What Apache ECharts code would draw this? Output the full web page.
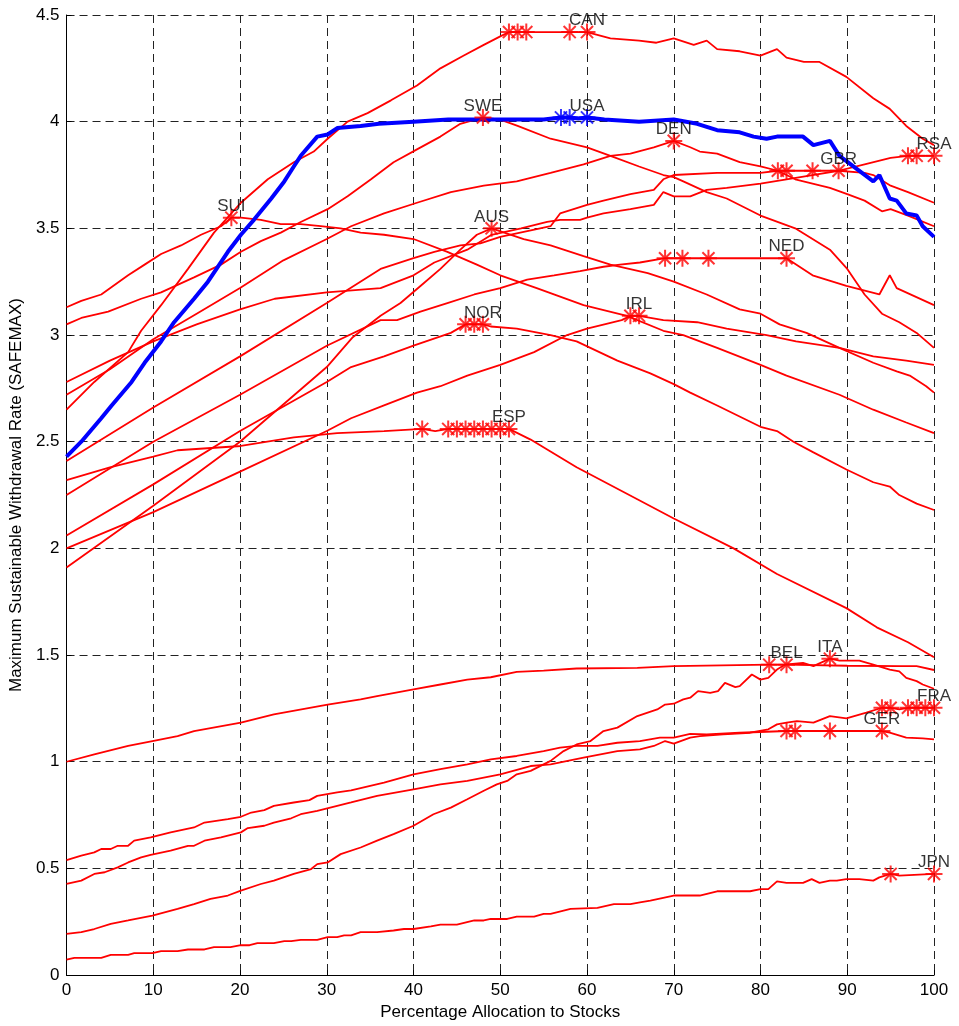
<!DOCTYPE html>
<html><head><meta charset="utf-8">
<script src="https://cdn.jsdelivr.net/npm/echarts@6/dist/echarts.min.js"></script>
<style>html,body{margin:0;padding:0;background:#fff}#c{width:959px;height:1026px}</style>
</head><body><div id="c"></div>
<script>
const COUNTRIES = ['CAN','SWE','DEN','RSA','GBR','SUI','AUS','NED','NOR','IRL','ESP','BEL','ITA','FRA','GER','JPN','USA'];

const CAN = [[0,2.65],[3.2,2.78],[7.1,2.92],[8.6,3.02],[10.9,3.14],[14,3.31],[17,3.48],[20.1,3.62],[23.2,3.73],[26.2,3.81],[28.5,3.86],[30.1,3.92],[32.4,4.0],[34.7,4.04],[37.4,4.10],[40.4,4.17],[43.1,4.25],[45.8,4.31],[48.1,4.36],[50,4.40],[51,4.42],[53,4.42],[58,4.42],[60,4.42],[62.7,4.39],[66,4.38],[68,4.37],[70,4.39],[72.3,4.36],[73.8,4.38],[75,4.34],[77.6,4.33],[80,4.31],[81.9,4.34],[83,4.30],[85,4.28],[86.8,4.28],[89.9,4.21],[93,4.11],[94.9,4.06],[96.8,3.98],[98.7,3.92],[100,3.89]];
const SWE = [[0,3.05],[1.7,3.08],[4.8,3.11],[8.6,3.17],[10.9,3.20],[14.7,3.27],[17.8,3.33],[20.1,3.39],[22.4,3.44],[24.7,3.48],[27,3.53],[30.1,3.59],[32.4,3.65],[35.1,3.73],[37.7,3.81],[40.4,3.87],[43.1,3.93],[45.4,3.99],[48,4.02],[50,4.01],[52,3.98],[55.8,3.92],[60,3.88],[62.7,3.84],[66,3.79],[68.8,3.75],[70,3.74],[71.1,3.72],[73.8,3.67],[76.1,3.64],[80,3.56],[84,3.50],[88,3.40],[90,3.31],[92,3.19],[94,3.10],[96,3.06],[98,3.01],[100,2.94]];
const DEN = [[0,2.72],[5,2.84],[10,2.98],[15,3.10],[20,3.22],[25,3.35],[30,3.45],[32.8,3.51],[36.6,3.57],[40.4,3.62],[44.3,3.67],[48.1,3.70],[51.9,3.72],[55.8,3.76],[59.6,3.80],[62.7,3.84],[65,3.85],[67.7,3.88],[70,3.91],[71.9,3.88],[73,3.86],[75,3.85],[77.6,3.81],[80,3.79],[82,3.77],[84,3.73],[86,3.71],[88,3.69],[90,3.66],[92,3.63],[94,3.58],[95,3.59],[97,3.56],[100,3.51]];
const RSA = [[0,2.78],[5,2.88],[10,2.97],[15,3.05],[20,3.12],[24,3.17],[30,3.20],[36.2,3.22],[40,3.28],[42.4,3.34],[46.2,3.40],[49,3.47],[52.4,3.50],[55.4,3.53],[56.9,3.54],[59.2,3.54],[60,3.55],[61.9,3.57],[65,3.59],[67.7,3.61],[68.8,3.67],[70,3.65],[71.9,3.65],[73.8,3.68],[76.1,3.69],[80,3.71],[83,3.73],[86,3.75],[89,3.77],[92,3.80],[95,3.83],[97,3.84],[98,3.84],[100,3.84]];
const GBR = [[0,2.41],[10,2.66],[20,2.90],[30,3.15],[36.2,3.31],[40,3.36],[42.4,3.39],[45.4,3.42],[47.7,3.43],[50,3.46],[54.6,3.50],[55.8,3.51],[56.9,3.57],[60,3.61],[61.9,3.63],[65,3.66],[67.7,3.68],[68.8,3.73],[70,3.75],[75,3.76],[80,3.76],[82,3.77],[83,3.77],[86,3.77],[89,3.77],[92,3.76],[93,3.75],[95,3.70],[97,3.67],[100,3.62]];
const SUI = [[0,3.13],[1.7,3.16],[4,3.19],[7.1,3.28],[9,3.33],[10.9,3.38],[13.2,3.42],[15.5,3.47],[17.8,3.51],[19,3.55],[20.1,3.55],[22.4,3.54],[24.7,3.52],[27,3.52],[29.3,3.51],[31.6,3.50],[33.9,3.48],[36.6,3.47],[40,3.45],[43.9,3.39],[47.3,3.33],[50,3.28],[54.2,3.22],[59.6,3.14],[64.6,3.09],[68.8,3.02],[71.1,3.0],[75,2.94],[80,2.86],[83,2.81],[89.1,2.72],[93,2.65],[96.8,2.59],[100,2.54]];
const AUS = [[0,1.91],[10,2.20],[20,2.50],[30,2.85],[33,2.99],[36.2,3.09],[38.5,3.15],[40.8,3.23],[43.1,3.31],[45.4,3.40],[47.3,3.47],[49,3.50],[52.7,3.45],[55.8,3.42],[59.6,3.37],[62.7,3.33],[67,3.29],[70,3.25],[73.8,3.19],[77.6,3.12],[80,3.10],[82.2,3.05],[85.3,3.01],[89.1,2.94],[93,2.87],[95.7,2.83],[97.2,2.81],[99.1,2.76],[100,2.73]];
const NED = [[0,2.25],[10,2.50],[20,2.72],[30,2.95],[36.2,3.07],[38.1,3.07],[40.8,3.11],[43.9,3.15],[47,3.19],[50,3.22],[53.1,3.26],[56.2,3.28],[59.2,3.30],[61.9,3.32],[63.8,3.33],[66.1,3.34],[69,3.36],[71,3.36],[74,3.36],[83,3.36],[86,3.28],[89.9,3.23],[93.7,3.19],[94.9,3.28],[95.7,3.22],[100,3.14]];
const NOR = [[0,2.06],[10,2.30],[20,2.55],[30,2.78],[32.8,2.85],[36.6,2.90],[40,2.95],[44.3,3.01],[46,3.05],[47,3.05],[48,3.05],[48.9,3.04],[51.9,3.03],[55.8,3.0],[58.8,2.97],[63.5,2.88],[67.3,2.82],[70,2.77],[71.9,2.73],[75,2.67],[80,2.57],[81.9,2.55],[83.8,2.50],[86.1,2.45],[89.9,2.37],[93,2.31],[94.9,2.29],[96,2.25],[98,2.21],[100,2.18]];
const IRL = [[0,2.0],[10,2.17],[20,2.36],[30,2.55],[32.8,2.61],[36.6,2.67],[40.4,2.73],[43.1,2.76],[46.2,2.81],[50,2.86],[53.9,2.92],[57.7,3.0],[60,3.03],[64,3.07],[65,3.09],[66,3.09],[68.8,3.07],[72.7,3.06],[76.1,3.03],[80.7,3.0],[84.1,2.97],[89.1,2.94],[93,2.90],[96.8,2.88],[100,2.86]];
const ESP = [[0,2.32],[5,2.38],[10,2.43],[12.8,2.46],[20.1,2.48],[26.2,2.52],[31.2,2.54],[36.6,2.55],[41,2.56],[42.5,2.55],[44,2.56],[51,2.56],[53.5,2.51],[58.8,2.38],[65.8,2.23],[70,2.14],[76.9,2.0],[81.9,1.88],[89.9,1.72],[93.4,1.63],[97,1.56],[100,1.49]];
const BEL = [[0,1.0],[3.2,1.035],[7.1,1.074],[9.9,1.097],[12.8,1.12],[14.7,1.144],[20.1,1.183],[23.9,1.222],[30.1,1.268],[33.9,1.292],[35.8,1.308],[40,1.339],[43.1,1.362],[46.2,1.385],[48.9,1.396],[51.9,1.421],[55,1.427],[58.8,1.437],[65.8,1.44],[70,1.448],[81,1.455],[83,1.455],[90,1.45],[96,1.448],[98,1.448],[100,1.43]];
const ITA = [[0,0.193],[1.7,0.201],[3.2,0.216],[5.1,0.24],[7.1,0.256],[9.9,0.279],[12.8,0.31],[14.7,0.333],[16.6,0.357],[18.6,0.373],[20.1,0.396],[22.4,0.427],[23.9,0.443],[26.2,0.474],[28.2,0.497],[28.9,0.52],[30.1,0.528],[31.6,0.567],[33.9,0.598],[35.8,0.63],[37.7,0.661],[40,0.70],[42.3,0.754],[44.3,0.785],[46.2,0.824],[48.1,0.864],[49.6,0.894],[50.8,0.91],[51.9,0.941],[53.5,0.957],[55.8,1.004],[57.3,1.05],[58.8,1.081],[60.4,1.097],[61.9,1.144],[63.5,1.16],[65.8,1.214],[68.1,1.245],[69,1.268],[70,1.272],[71.1,1.292],[71.9,1.30],[72.8,1.331],[74.2,1.323],[75.1,1.331],[75.9,1.37],[77.1,1.35],[77.6,1.354],[79,1.409],[80,1.385],[80.9,1.393],[81.9,1.432],[82.8,1.455],[84.9,1.463],[86.1,1.448],[88,1.483],[89.1,1.474],[91.4,1.474],[93,1.455],[94.9,1.432],[96,1.424],[96.8,1.393],[98,1.378],[98.7,1.362],[100,1.342]];
const FRA = [[0,0.427],[1.7,0.443],[3.2,0.474],[4.4,0.482],[5.9,0.505],[7.1,0.528],[8.6,0.552],[9.7,0.564],[12,0.583],[14,0.606],[14.7,0.606],[15.9,0.63],[17.8,0.645],[20.1,0.669],[20.9,0.689],[22.8,0.70],[23.9,0.715],[25.9,0.735],[27,0.754],[28.9,0.77],[31.2,0.793],[32.8,0.809],[35.8,0.84],[40,0.871],[43.1,0.894],[46.2,0.91],[50,0.941],[53.5,0.98],[55.8,0.988],[59.6,1.019],[63.5,1.05],[66.1,1.058],[67.7,1.074],[69,1.097],[70,1.085],[71.9,1.113],[73,1.12],[75.7,1.128],[78.8,1.136],[80.9,1.152],[81.9,1.175],[83,1.183],[84.2,1.19],[86.1,1.183],[88,1.214],[89.9,1.203],[92.2,1.23],[94,1.253],[95,1.253],[96,1.245],[97,1.253],[100,1.253]];
const GER = [[0,0.539],[1.7,0.56],[3.2,0.575],[4,0.591],[5.1,0.591],[5.9,0.606],[7.1,0.606],[7.8,0.63],[9.7,0.645],[12,0.669],[14.7,0.692],[15.9,0.715],[18.6,0.731],[20.1,0.742],[21.3,0.762],[22.8,0.773],[23.9,0.793],[26.2,0.809],[28,0.82],[28.9,0.84],[31.2,0.856],[32.8,0.866],[36.6,0.902],[40,0.941],[43.1,0.965],[46.2,0.988],[48.9,1.011],[51.9,1.027],[55,1.05],[56.9,1.066],[58.8,1.074],[61.2,1.074],[63.5,1.089],[66.1,1.097],[68.4,1.113],[70,1.113],[71.9,1.131],[73.8,1.128],[77.6,1.136],[83,1.144],[84,1.144],[88,1.144],[94,1.144],[94.9,1.136],[96.8,1.113],[98.7,1.11],[100,1.105]];
const JPN = [[0,0.072],[0.9,0.081],[4,0.081],[5.1,0.095],[7.1,0.095],[7.8,0.103],[9.9,0.103],[10.9,0.112],[12.8,0.112],[14,0.12],[15.9,0.12],[17,0.131],[18.9,0.131],[20.1,0.14],[21.1,0.14],[22,0.15],[23.9,0.15],[25.1,0.159],[25.9,0.159],[27,0.165],[28.9,0.165],[30.1,0.178],[31.2,0.178],[32,0.186],[32.8,0.186],[33.9,0.201],[35.8,0.201],[37.7,0.209],[38.9,0.216],[40,0.216],[42,0.228],[43.1,0.237],[45,0.237],[47,0.256],[48.1,0.256],[48.9,0.263],[50.8,0.263],[51.9,0.274],[53.9,0.274],[55,0.287],[55.8,0.287],[57.3,0.302],[58.1,0.31],[61.2,0.315],[63.1,0.333],[65,0.333],[66.1,0.341],[67.3,0.349],[70,0.373],[73,0.373],[75,0.393],[78.8,0.393],[80,0.403],[80.9,0.403],[81.9,0.439],[83,0.432],[84.9,0.432],[85.9,0.45],[86.8,0.432],[88,0.443],[88.8,0.443],[89.9,0.45],[91.4,0.45],[93,0.443],[93.7,0.458],[95,0.474],[96,0.466],[100,0.474]];
const USA = [[0,2.43],[1.7,2.50],[4,2.61],[5.2,2.67],[7.5,2.78],[9,2.87],[10.9,2.97],[12.4,3.06],[14.7,3.17],[16.3,3.25],[18.6,3.39],[20.1,3.47],[21.6,3.54],[23.6,3.64],[25.1,3.72],[26.2,3.79],[27,3.84],[28.9,3.93],[30.1,3.94],[31.2,3.97],[33.9,3.98],[36,3.99],[40,4.0],[44,4.01],[48,4.01],[52,4.01],[55,4.01],[57,4.02],[58,4.02],[59,4.015],[60,4.02],[62,4.01],[66,4.0],[70,4.01],[72.7,3.99],[75,3.96],[77.6,3.95],[79.2,3.93],[80.7,3.92],[81.9,3.93],[84.9,3.93],[86.1,3.89],[88,3.91],[89.1,3.84],[93,3.72],[93.7,3.75],[94.9,3.64],[95.7,3.63],[96.8,3.57],[98,3.56],[98.7,3.51],[100,3.46]];

const LINES = [CAN,SWE,DEN,RSA,GBR,SUI,AUS,NED,NOR,IRL,ESP,BEL,ITA,FRA,GER,JPN,USA];
const PEAK_X = [[51,52,53,58,60],[48],[70],[97,98,100],[82,83,86,89],[19],[49],[69,71,74,83],[46,47,48],[65,66],[41,44,45,46,47,48,49,50,51],[81,83],[88],[94,95,97,98,99,100],[83,84,88,94],[95,100],[57,58,60]];
const PEAK_Y = [4.42,4.02,3.91,3.84,3.77,3.55,3.50,3.36,3.05,3.09,2.56,1.455,1.483,1.253,1.144,0.474,4.02];

const STAR = 'path://M0,8L16,8M8,0L8,16M2.3,2.3L13.7,13.7M13.7,2.3L2.3,13.7';
const FONT = '"Liberation Sans", Arial, Helvetica, sans-serif';

const series = [];
COUNTRIES.forEach((name, i) => {
  const col = name === 'USA' ? '#0000ff' : '#ff0000';
  const w = name === 'USA' ? 4 : 1.8;
  series.push({
    type: 'line', name, data: LINES[i], showSymbol: false, symbol: 'none',
    lineStyle: { color: col, width: w }, z: name === 'USA' ? 5 : 3, silent: true, animation: false
  });
  series.push({
    type: 'scatter', name: name + '_max', data: PEAK_X[i].map(x => [x, PEAK_Y[i]]),
    symbol: STAR, symbolSize: 17,
    itemStyle: { color: 'none', borderColor: col, borderWidth: 2 },
    z: 6, silent: true, animation: false
  });
  const lx = PEAK_X[i][PEAK_X[i].length - 1];
  series.push({
    type: 'scatter', name: name + '_lbl', data: [[lx, PEAK_Y[i]]],
    symbolSize: 0, z: 7, silent: true, animation: false,
    label: { show: true, position: 'top', distance: 3, formatter: name, color: '#000', fontSize: 17, fontFamily: FONT }
  });
});

const chart = echarts.init(document.getElementById('c'), null, { renderer: 'canvas' });
chart.setOption({
  animation: false,
  backgroundColor: '#fff',
  grid: { left: 65, right: 25, top: 15, bottom: 48, containLabel: false },
  xAxis: {
    type: 'value', min: 0, max: 100, interval: 10,
    name: 'Percentage Allocation to Stocks', nameLocation: 'middle', nameGap: 27,
    nameTextStyle: { color: '#000', fontSize: 17, fontFamily: FONT },
    axisLine: { show: true, lineStyle: { color: '#000', width: 1 } },
    axisTick: { show: true, inside: true, length: 5, lineStyle: { color: '#000' } },
    axisLabel: { color: '#000', fontSize: 17, fontFamily: FONT, margin: 7 },
    splitLine: { show: true, lineStyle: { color: '#222', width: 1, type: [8, 5] } }
  },
  yAxis: {
    type: 'value', min: 0, max: 4.5, interval: 0.5,
    name: 'Maximum Sustainable Withdrawal Rate (SAFEMAX)', nameLocation: 'middle', nameGap: 36, nameRotate: 90,
    nameTextStyle: { color: '#000', fontSize: 17, fontFamily: FONT },
    axisLine: { show: true, lineStyle: { color: '#000', width: 1 } },
    axisTick: { show: true, inside: true, length: 5, lineStyle: { color: '#000' } },
    axisLabel: { color: '#000', fontSize: 17, fontFamily: FONT, margin: 7 },
    splitLine: { show: true, lineStyle: { color: '#222', width: 1, type: [8, 5] } }
  },
  series
});
</script></body></html>
